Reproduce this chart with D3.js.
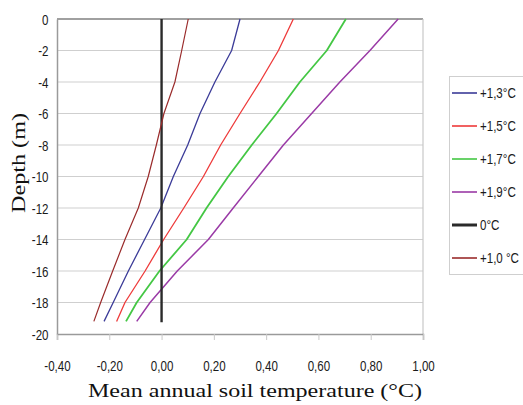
<!DOCTYPE html>
<html>
<head>
<meta charset="utf-8">
<script src="https://cdn.jsdelivr.net/npm/d3@7"></script>
<style>
	body { margin: 0; background: #fff; }
	svg { display: block; }
	.tick-label { font-family: "Liberation Sans", Arial, sans-serif; font-size: 15px; fill: #1a1a1a; }
	.title { font-family: "Liberation Serif", "DejaVu Serif", serif; font-size: 19px; fill: #111; }
</style>
</head>
<body>
<div id="chart"></div>
<script>
	// depths (m) where temperature was read
	var depths = [0, -2, -4, -6, -8, -10, -12, -14, -16, -18, -19.2];

	// mean annual soil temperature per scenario
	var t10 = [0.102, 0.077, 0.051, 0.009, -0.02, -0.051, -0.089, -0.14, -0.187, -0.233, -0.259];
	var t13 = [0.30, 0.268, 0.204, 0.147, 0.10, 0.045, -0.003, -0.065, -0.127, -0.185, -0.22];
	var t15 = [0.504, 0.447, 0.376, 0.30, 0.226, 0.16, 0.085, 0.008, -0.063, -0.14, -0.172];
	var t17 = [0.705, 0.632, 0.529, 0.44, 0.345, 0.255, 0.172, 0.096, -0.008, -0.095, -0.136];
	var t19 = [0.905, 0.797, 0.682, 0.574, 0.466, 0.37, 0.274, 0.179, 0.06, -0.044, -0.095];
	var t0 = [0, 0];
	var depths0 = [0, -19.25];

	var xTicks = [-0.4, -0.2, 0, 0.2, 0.4, 0.6, 0.8, 1.0];
	var yTicks = [0, -2, -4, -6, -8, -10, -12, -14, -16, -18, -20];

	var series = [
		{ name: "+1,3°C", x: t13, y: depths, color: "#3b3b98", w: 1.3 },
		{ name: "+1,5°C", x: t15, y: depths, color: "#ee3a3a", w: 1.3 },
		{ name: "+1,7°C", x: t17, y: depths, color: "#44c744", w: 1.8 },
		{ name: "+1,9°C", x: t19, y: depths, color: "#9a3aa6", w: 1.5 },
		{ name: "0°C", x: t0, y: depths0, color: "#2a2a2a", w: 2.4 },
		{ name: "+1,0 °C", x: t10, y: depths, color: "#9a2b2b", w: 1.2 }
	];

	var width = 523, height = 405;
	var margins = { left: 57, right: 100, top: 19, bottom: 71 };
	var narrow = "scale(0.77,1)";

	var svg = d3.select("#chart").append("svg")
		.attr("width", width)
		.attr("height", height);

	var x = d3.scaleLinear()
		.domain([-0.4, 1.0])
		.range([margins.left, width - margins.right]);
	var y = d3.scaleLinear()
		.domain([0, -20])
		.range([margins.top, height - margins.bottom]);

	var fmt = function(d) { return d3.format(".2f")(d).replace(".", ",").replace("−", "-"); };

	// grid lines
	svg.append("g").selectAll("line")
		.data(yTicks.slice(1, -1)).enter()
		.append("line")
			.attr("x1", x(-0.4)).attr("x2", x(1.0))
			.attr("y1", function(d) { return y(d); })
			.attr("y2", function(d) { return y(d); })
			.attr("stroke", "#cfcfcf")
			.attr("stroke-width", 1.2);

	// plot frame
	svg.append("line")
		.attr("x1", x(-0.4)).attr("x2", x(1.0))
		.attr("y1", y(0)).attr("y2", y(0))
		.attr("stroke", "#a0a0a0").attr("stroke-width", 2);
	svg.append("line")
		.attr("x1", x(1.0)).attr("x2", x(1.0))
		.attr("y1", y(0)).attr("y2", y(-20))
		.attr("stroke", "#c8c8c8").attr("stroke-width", 1.2);

	// axes
	var xAxis = d3.axisBottom(x).tickValues(xTicks).tickSize(6).tickFormat(fmt);
	var yAxis = d3.axisLeft(y).tickValues(yTicks).tickSize(0).tickPadding(11)
		.tickFormat(function(d) { return d === 0 ? "0" : String(d); });

	var xg = svg.append("g")
		.attr("transform", "translate(0," + y(-20) + ")")
		.call(xAxis);
	xg.select(".domain").attr("stroke", "#9a9a9a").attr("stroke-width", 1.5);
	xg.selectAll(".tick line").attr("stroke", "#c8c8c8");
	xg.selectAll(".tick text")
		.attr("class", "tick-label")
		.attr("y", 26)
		.attr("transform", narrow);

	var yg = svg.append("g")
		.attr("transform", "translate(" + x(-0.4) + ",0)")
		.call(yAxis);
	yg.select(".domain").attr("stroke", "#9a9a9a").attr("stroke-width", 1.5);
	yg.selectAll(".tick text")
		.attr("class", "tick-label")
		.attr("dy", "0.35em")
		.attr("transform", narrow);
	svg.selectAll("g").attr("font-size", null).attr("font-family", null);

	// series lines
	var line = d3.line()
		.x(function(d) { return x(d[0]); })
		.y(function(d) { return y(d[1]); });

	svg.append("g").selectAll("path")
		.data(series).enter()
		.append("path")
			.attr("d", function(s) { return line(d3.zip(s.x, s.y)); })
			.attr("fill", "none")
			.attr("stroke", function(s) { return s.color; })
			.attr("stroke-width", function(s) { return s.w; })
			.attr("stroke-linejoin", "round");

	// axis titles
	svg.append("text")
		.attr("class", "title")
		.attr("text-anchor", "middle")
		.attr("transform", "translate(25,163) rotate(-90)")
		.attr("textLength", 100)
		.attr("lengthAdjust", "spacingAndGlyphs")
		.text("Depth (m)");
	svg.append("text")
		.attr("class", "title")
		.attr("text-anchor", "middle")
		.attr("x", 255)
		.attr("y", 397)
		.attr("textLength", 334)
		.attr("lengthAdjust", "spacingAndGlyphs")
		.text("Mean annual soil temperature (°C)");

	// legend
	var legend = svg.append("g");
	legend.append("rect")
		.attr("x", 449.5).attr("y", 76.5)
		.attr("width", 80).attr("height", 198)
		.attr("fill", "#fff")
		.attr("stroke", "#cfcfcf");
	var items = legend.selectAll(".item")
		.data(series).enter()
		.append("g")
			.attr("class", "item")
			.attr("transform", function(s, i) { return "translate(0," + (93 + i * 33) + ")"; });
	items.append("line")
		.attr("x1", 452).attr("x2", 477)
		.attr("stroke", function(s) { return s.color; })
		.attr("stroke-width", function(s) { return s.name === "0°C" ? 3 : 1.6; });
	items.append("text")
		.attr("class", "tick-label")
		.attr("transform", "translate(480,0) " + narrow)
		.attr("dy", "0.35em")
		.text(function(s) { return s.name; });
</script>
</body>
</html>
